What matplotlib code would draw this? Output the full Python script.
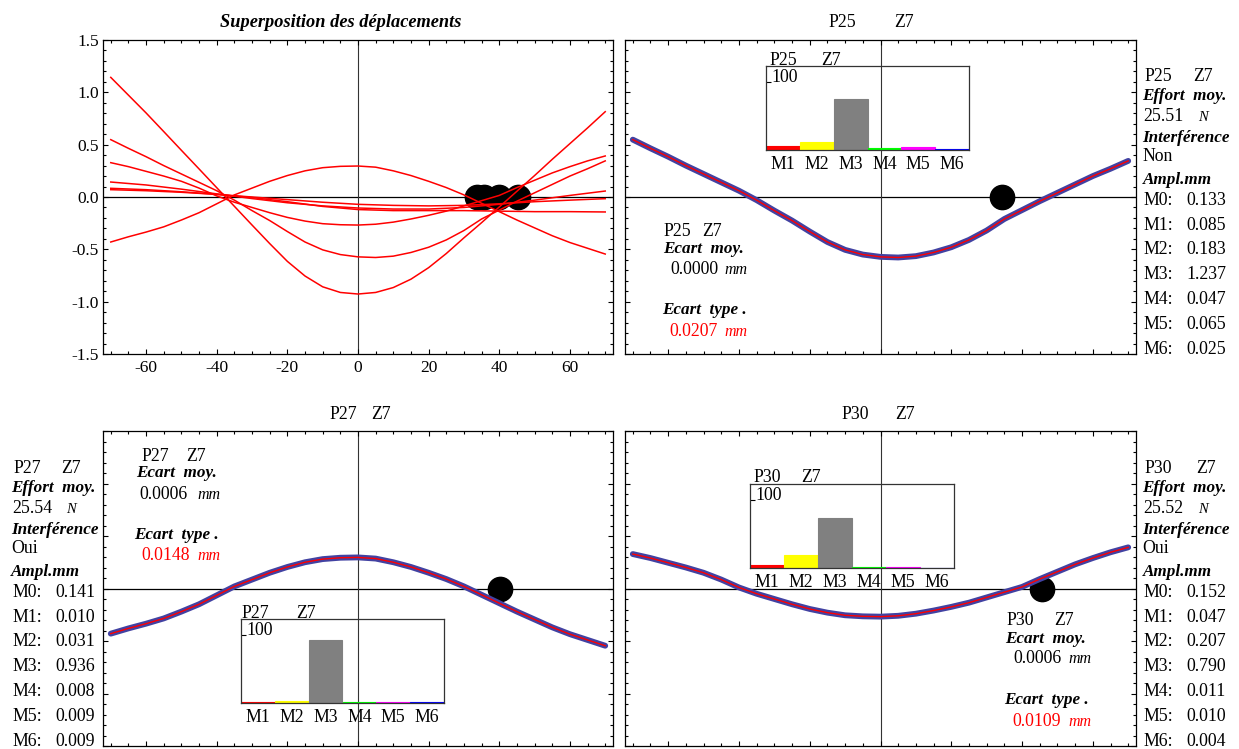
import matplotlib
matplotlib.use("Agg")
import matplotlib.pyplot as plt
from matplotlib.ticker import MultipleLocator, FormatStrFormatter

plt.rcParams["axes.unicode_minus"] = False
plt.rcParams["font.family"] = ["Liberation Serif", "DejaVu Serif"]

# ---------------- data ----------------
# abscissa of the displacement curves (mm)
z = [-70, -65, -60, -55, -50, -45, -40, -35, -30, -25, -20, -15, -10, -5, 0,
     5, 10, 15, 20, 25, 30, 35, 40, 45, 50, 55, 60, 65, 70]
z10 = [-70, -60, -50, -40, -30, -20, -10, 0, 10, 20, 30, 40, 50, 60, 70]

# large curve (only in the superposition)
curve_a = [1.143, 0.973, 0.803, 0.625, 0.446, 0.268, 0.089, -0.089, -0.268, -0.445,
           -0.615, -0.755, -0.858, -0.912, -0.927, -0.912, -0.865, -0.785, -0.675,
           -0.54, -0.39, -0.245, -0.095, 0.055, 0.205, 0.36, 0.51, 0.66, 0.815]
# P25 Z7
curve_p25 = [0.548, 0.465, 0.385, 0.30, 0.22, 0.14, 0.06, -0.03, -0.13, -0.225,
             -0.33, -0.43, -0.505, -0.55, -0.572, -0.578, -0.565, -0.53, -0.48,
             -0.41, -0.32, -0.21, -0.125, -0.04, 0.04, 0.12, 0.20, 0.27, 0.345]
# P30 Z7
curve_p30 = [0.328, 0.29, 0.245, 0.20, 0.15, 0.085, 0.01, -0.05, -0.10, -0.15,
             -0.195, -0.23, -0.255, -0.265, -0.268, -0.26, -0.24, -0.21, -0.175,
             -0.135, -0.085, -0.035, 0.015, 0.09, 0.16, 0.23, 0.29, 0.345, 0.392]
# P27 Z7
curve_p27 = [-0.43, -0.38, -0.335, -0.285, -0.22, -0.15, -0.065, 0.02, 0.085, 0.15,
             0.205, 0.25, 0.28, 0.293, 0.296, 0.285, 0.25, 0.205, 0.15, 0.09, 0.02,
             -0.06, -0.14, -0.22, -0.295, -0.37, -0.435, -0.49, -0.545]
# three small curves of the superposition
curve_e = [0.143, 0.115, 0.075, 0.03, -0.015, -0.055, -0.085, -0.105, -0.115, -0.115,
           -0.10, -0.07, -0.03, 0.015, 0.057]
curve_f = [0.083, 0.07, 0.05, 0.025, 0.0, -0.025, -0.05, -0.07, -0.08, -0.085,
           -0.08, -0.065, -0.045, -0.03, -0.016]
curve_g = [0.07, 0.06, 0.045, 0.025, -0.005, -0.045, -0.09, -0.12, -0.13, -0.13,
           -0.13, -0.135, -0.14, -0.14, -0.143]

# black markers (position along z, on the axis)
dots_all_x = [33.8, 35.6, 39.8, 45.4]
dots_all_y = [0, 0, 0, 0]
dot_p25 = 34.3
dot_p27 = 40.3
dot_p30 = 45.6

# mode bar charts (percent)
bar_labels = ["M1", "M2", "M3", "M4", "M5", "M6"]
bar_pos = [1, 2, 3, 4, 5, 6]
bar_colors = ["#ff0000", "#ffff00", "#808080", "#00ff00", "#ff00ff", "#0000ff"]
bars_p25 = [5.2, 11.1, 75.3, 2.9, 4.0, 1.5]
bars_p27 = [1.0, 3.1, 93.3, 0.8, 0.9, 0.9]
bars_p30 = [4.4, 19.4, 73.9, 1.0, 0.9, 0.4]

# amplitudes M0..M6 (mm)
modes = ["M0", "M1", "M2", "M3", "M4", "M5", "M6"]
ampl_p25 = [0.133, 0.085, 0.183, 1.237, 0.047, 0.065, 0.025]
ampl_p27 = [0.141, 0.010, 0.031, 0.936, 0.008, 0.009, 0.009]
ampl_p30 = [0.152, 0.047, 0.207, 0.790, 0.011, 0.010, 0.004]

# ---------------- figure ----------------
W, H = 1239, 749
fig = plt.figure(figsize=(W / 100, H / 100), dpi=100)
FS = 12.8     # regular text
FB = 12.3     # bold italic labels


def rect(l, r, t, b):
    return [l / W, 1 - b / H, (r - l) / W, (b - t) / H]


def put(px, py, s, size=FS, bold=False, italic=False, color="black", ha="left", base=None):
    # py is the visual centre of capitals/digits, unless base is given
    if base is None:
        base = py + 0.33 * size * 100 / 72
    fig.text(px / W, 1 - base / H, s, fontsize=size, color=color, ha=ha, va="baseline",
             fontweight="bold" if bold else "normal",
             fontstyle="italic" if italic else "normal")
    return base


def label(px, py, s, ha="left", size=FB):
    return put(px, py, s, size=size, bold=True, italic=True, ha=ha)


def pair(x1, x2, py, name):
    put(x1, py, name)
    put(x2, py, "Z7")


def panel(l, r, t, b, labels=False):
    ax = fig.add_axes(rect(l, r, t, b))
    ax.set_xlim(-72.2, 72.2)
    ax.set_ylim(-1.5, 1.5)
    ax.xaxis.set_major_locator(MultipleLocator(20))
    ax.xaxis.set_minor_locator(MultipleLocator(5))
    ax.yaxis.set_major_locator(MultipleLocator(0.5))
    ax.yaxis.set_minor_locator(MultipleLocator(0.1))
    ax.tick_params(which="both", direction="in", top=True, right=True, width=0.8,
                   labelsize=12.5)
    ax.tick_params(which="major", length=3.8)
    ax.tick_params(which="minor", length=1.9)
    if labels:
        ax.yaxis.set_major_formatter(FormatStrFormatter("%.1f"))
        ax.xaxis.set_major_formatter(FormatStrFormatter("%d"))
        ax.tick_params(axis="y", pad=3)
        ax.tick_params(axis="x", pad=4)
    else:
        ax.tick_params(labelbottom=False, labelleft=False)
    for sp in ax.spines.values():
        sp.set_linewidth(0.9)
    ax.axhline(0, color="black", lw=0.9, zorder=1)
    ax.axvline(0, color="#333333", lw=0.8, zorder=1)
    return ax


def inset(l, r, t, b, vals):
    ax = fig.add_axes(rect(l, r, t, b))
    ax.patch.set_alpha(0)
    ax.bar(bar_pos, vals, width=1, color=bar_colors, edgecolor=bar_colors, lw=0.8)
    ax.set_xlim(0.5, 6.5)
    ax.set_ylim(0, 123.5)
    ax.set_xticks(bar_pos)
    ax.set_xticklabels(bar_labels, fontsize=FS)
    ax.tick_params(axis="x", length=0, pad=4)
    ax.set_yticks([100])
    ax.tick_params(axis="y", direction="in", length=3.5, width=0.8, labelleft=False)
    ax.text(0.025, 100, "100", transform=ax.get_yaxis_transform(), fontsize=FS,
            va="baseline", ha="left")
    for sp in ax.spines.values():
        sp.set_linewidth(0.9)
        sp.set_color("#333333")
    return ax


def stats(x_pair, y_pair, x_lab, y1, x_n1, y2, v1, x_lab2, y3, x_n2, y4, v2, x_mm, name):
    pair(x_pair[0], x_pair[1], y_pair, name)
    label(x_lab, y1, "Ecart  moy.")
    bl = put(x_n1, y2, v1)
    put(x_mm, None, "mm", size=11.5, italic=True, base=bl)
    label(x_lab2, y3, "Ecart  type .")
    bl = put(x_n2, y4, v2, color="red")
    put(x_mm, None, "mm", size=11.5, italic=True, color="red", base=bl)


def info(x, x_z7, x_num, y0, name, effort, interf, ampl):
    put(x + 2, y0, name)
    put(x_z7, y0, "Z7")
    label(x, y0 + 19.5, "Effort  moy.")
    bl = put(x + 1, y0 + 40.5, effort)
    put(x + 55.5, None, "N", size=10.5, italic=True, base=bl)
    label(x, y0 + 61.5, "Interférence")
    put(x, y0 + 80.5, interf)
    label(x, y0 + 103, "Ampl.mm")
    for k, (m, a) in enumerate(zip(modes, ampl)):
        yy = y0 + 124 + 24.8 * k
        put(x + 1, yy, m + ":")
        put(x_num, yy, "%.3f" % a)


BLUE = "#4242a2"

# --- top left: superposition ---
ax = panel(103, 613, 40, 354, labels=True)
ax.plot(dots_all_x, dots_all_y, "o", color="black", ms=17.5, zorder=2)
for c in (curve_a, curve_p25, curve_p30, curve_p27):
    ax.plot(z, c, color="red", lw=1.1, zorder=4)
for c in (curve_e, curve_f, curve_g):
    ax.plot(z10, c, color="red", lw=1.1, zorder=4)
label(341, 21, "Superposition des déplacements", ha="center", size=13.2)

# --- top right: P25 ---
ax = panel(625, 1136, 40, 354)
ax.plot([dot_p25], [0], "o", color="black", ms=17.5, zorder=2)
ax.plot(z, curve_p25, color=BLUE, lw=4.2, solid_capstyle="round", zorder=3)
ax.plot(z, curve_p25, color="red", lw=1.0, zorder=4)
pair(828, 894, 21, "P25")
inset(766, 969, 66, 150, bars_p25)
pair(769.4, 821, 59, "P25")
stats((663.5, 702), 230, 662.7, 247, 670.6, 268, "0.0000",
      662.3, 308, 669.4, 330, "0.0207", 724.7, "P25")
info(1142.5, 1193, 1186, 75, "P25", "25.51", "Non", ampl_p25)

# --- bottom left: P27 ---
ax = panel(103, 613, 431, 746)
ax.plot([dot_p27], [0], "o", color="black", ms=17.5, zorder=2)
ax.plot(z, curve_p27, color=BLUE, lw=4.2, solid_capstyle="round", zorder=3)
ax.plot(z, curve_p27, color="red", lw=1.0, zorder=4)
pair(329, 371.5, 413, "P27")
inset(241, 444, 619, 703, bars_p27)
pair(241, 295.7, 611.7, "P27")
stats((141, 186), 455, 136.4, 471, 139, 493, "0.0006",
      134.4, 533, 141.5, 554, "0.0148", 197.6, "P27")
info(11, 61, 55.3, 467, "P27", "25.54", "Oui", ampl_p27)

# --- bottom right: P30 ---
ax = panel(625, 1136, 431, 746)
ax.plot([dot_p30], [0], "o", color="black", ms=17.5, zorder=2)
ax.plot(z, curve_p30, color=BLUE, lw=4.2, solid_capstyle="round", zorder=3)
ax.plot(z, curve_p30, color="red", lw=1.0, zorder=4)
pair(841.3, 894.7, 413, "P30")
inset(750, 954, 484, 568, bars_p30)
pair(753.6, 801, 476, "P30")
stats((1006.6, 1054), 619, 1005.4, 637, 1013, 657, "0.0006",
      1004.6, 698, 1012, 720, "0.0109", 1068.6, "P30")
info(1142.5, 1196, 1186.4, 467, "P30", "25.52", "Oui", ampl_p30)

fig.savefig("out.png", dpi=100)
